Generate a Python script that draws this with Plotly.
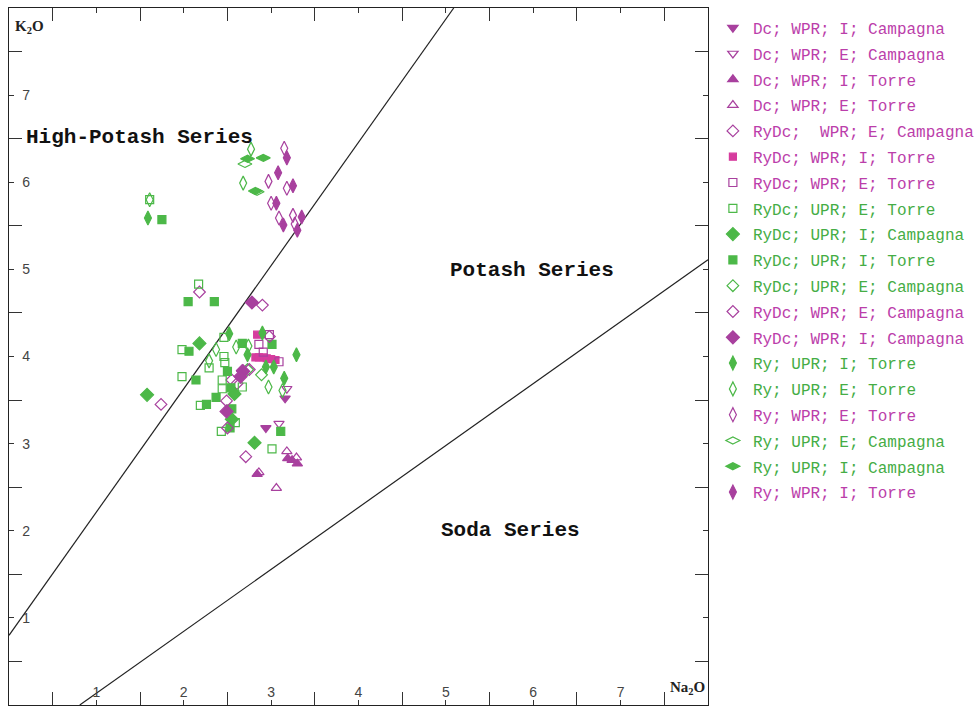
import plotly.graph_objects as go

# ---- boundary lines of the K2O vs Na2O classification ----
high_potash_x = [0.0, 5.09]
high_potash_y = [0.80, 8.00]
soda_x = [0.81, 8.00]
soda_y = [0.00, 5.11]

# ---- samples: (Na2O, K2O) per group ----
dc_wpr_i_campagna_x = [3.16, 2.94]
dc_wpr_i_campagna_y = [3.52, 3.18]
dc_wpr_e_campagna_x = [3.18, 3.09]
dc_wpr_e_campagna_y = [3.63, 3.23]
dc_wpr_i_torre_x = [3.19, 3.24, 3.30, 2.84]
dc_wpr_i_torre_y = [2.83, 2.81, 2.77, 2.65]
dc_wpr_e_torre_x = [3.06, 3.18, 3.29, 2.86]
dc_wpr_e_torre_y = [2.49, 2.91, 2.84, 2.67]
rydc_wpr_e_campagna_a_x = [2.18, 1.74, 2.90, 2.55, 2.61]
rydc_wpr_e_campagna_a_y = [4.74, 3.45, 4.59, 3.73, 3.69]
rydc_wpr_i_torre_x = [2.84, 2.82, 2.86, 2.91, 2.95, 3.00, 3.05]
rydc_wpr_i_torre_y = [4.25, 3.99, 3.99, 3.99, 3.98, 3.97, 3.96]
rydc_wpr_e_torre_x = [2.86, 2.98, 2.91, 3.09]
rydc_wpr_e_torre_y = [4.14, 4.25, 4.05, 3.94]
rydc_upr_e_torre_x = [1.61, 2.17, 1.98, 1.98, 2.46, 2.46, 2.47, 2.29, 2.44, 2.44,
                      2.19, 2.67, 2.59, 2.43, 3.01]
rydc_upr_e_torre_y = [5.80, 4.83, 4.08, 3.77, 4.22, 4.00, 3.93, 3.87, 3.73, 3.63,
                      3.44, 3.65, 3.24, 3.14, 2.94]
rydc_upr_i_campagna_x = [2.18, 1.58, 2.55, 2.81, 2.58]
rydc_upr_i_campagna_y = [4.15, 3.56, 3.28, 3.01, 3.57]
rydc_upr_i_torre_x = [1.75, 2.05, 2.35, 2.06, 2.14, 2.26, 2.37, 2.50, 2.67, 3.01,
                      2.54, 2.55, 2.53, 3.11]
rydc_upr_i_torre_y = [5.57, 4.63, 4.63, 4.06, 3.73, 3.45, 3.53, 3.83, 4.15, 4.14,
                      3.64, 3.40, 3.18, 3.14]
rydc_upr_e_campagna_x = [2.73, 2.89]
rydc_upr_e_campagna_y = [3.85, 3.79]
rydc_wpr_e_campagna_b_x = [2.67, 2.75, 2.49, 2.50, 2.98, 2.71]
rydc_wpr_e_campagna_b_y = [3.84, 3.85, 3.49, 3.18, 4.23, 2.85]
rydc_wpr_i_campagna_x = [2.78, 2.49, 2.68, 2.65]
rydc_wpr_i_campagna_y = [4.62, 3.37, 3.83, 3.77]
ry_upr_i_torre_x = [1.59, 2.52, 2.94, 3.03, 3.29, 3.15, 2.90, 2.73]
ry_upr_i_torre_y = [5.59, 4.26, 3.88, 3.88, 4.02, 3.75, 4.27, 4.02]
ry_upr_e_torre_x = [2.77, 2.68, 1.61, 2.37, 2.29, 2.60, 2.74, 2.97, 3.13]
ry_upr_e_torre_y = [6.38, 5.99, 5.80, 4.08, 3.95, 4.11, 4.12, 3.65, 3.61]
ry_wpr_e_torre_x = [3.15, 2.97, 3.18, 3.00, 3.09, 3.25, 3.27]
ry_wpr_e_torre_y = [6.39, 6.01, 5.93, 5.76, 5.59, 5.62, 5.52]
ry_upr_e_campagna_x = [2.70, 2.84]
ry_upr_e_campagna_y = [6.21, 5.89]
ry_upr_i_campagna_x = [2.73, 2.91, 2.82]
ry_upr_i_campagna_y = [6.27, 6.28, 5.90]
ry_wpr_i_torre_x = [3.18, 3.08, 3.25, 3.06, 3.35, 3.14, 3.30]
ry_wpr_i_torre_y = [6.28, 6.11, 5.96, 5.76, 5.60, 5.51, 5.45]

# ---- axis ticks ----
major_ticks = [1, 2, 3, 4, 5, 6, 7]
minor_ticks = [0.5, 1.5, 2.5, 3.5, 4.5, 5.5, 6.5, 7.5]

MAGENTA = "#a8409e"
MAGENTA_TXT = "#bb3eaa"
GREEN = "#4cb848"
GREEN_TXT = "#45ad45"

NB = "\u00a0"

groups = [
    ("Dc; WPR; I; Campagna", dc_wpr_i_campagna_x, dc_wpr_i_campagna_y, "triangle-down", MAGENTA, MAGENTA_TXT, 9),
    ("Dc; WPR; E; Campagna", dc_wpr_e_campagna_x, dc_wpr_e_campagna_y, "triangle-down-open", MAGENTA, MAGENTA_TXT, 9),
    ("Dc; WPR; I; Torre", dc_wpr_i_torre_x, dc_wpr_i_torre_y, "triangle-up", MAGENTA, MAGENTA_TXT, 9),
    ("Dc; WPR; E; Torre", dc_wpr_e_torre_x, dc_wpr_e_torre_y, "triangle-up-open", MAGENTA, MAGENTA_TXT, 9),
    ("RyDc;" + NB + " WPR; E; Campagna", rydc_wpr_e_campagna_a_x, rydc_wpr_e_campagna_a_y, "diamond-open", MAGENTA, MAGENTA_TXT, 9),
    ("RyDc; WPR; I; Torre", rydc_wpr_i_torre_x, rydc_wpr_i_torre_y, "square", "#d63c9e", MAGENTA_TXT, 7),
    ("RyDc; WPR; E; Torre", rydc_wpr_e_torre_x, rydc_wpr_e_torre_y, "square-open", MAGENTA, MAGENTA_TXT, 8),
    ("RyDc; UPR; E; Torre", rydc_upr_e_torre_x, rydc_upr_e_torre_y, "square-open", GREEN, GREEN_TXT, 8),
    ("RyDc; UPR; I; Campagna", rydc_upr_i_campagna_x, rydc_upr_i_campagna_y, "diamond", GREEN, GREEN_TXT, 10),
    ("RyDc; UPR; I; Torre", rydc_upr_i_torre_x, rydc_upr_i_torre_y, "square", GREEN, GREEN_TXT, 8),
    ("RyDc; UPR; E; Campagna", rydc_upr_e_campagna_x, rydc_upr_e_campagna_y, "diamond-open", GREEN, GREEN_TXT, 9),
    ("RyDc; WPR; E; Campagna", rydc_wpr_e_campagna_b_x, rydc_wpr_e_campagna_b_y, "diamond-open", MAGENTA, MAGENTA_TXT, 9),
    ("RyDc; WPR; I; Campagna", rydc_wpr_i_campagna_x, rydc_wpr_i_campagna_y, "diamond", MAGENTA, MAGENTA_TXT, 10),
    ("Ry; UPR; I; Torre", ry_upr_i_torre_x, ry_upr_i_torre_y, "diamond-tall", GREEN, GREEN_TXT, 10),
    ("Ry; UPR; E; Torre", ry_upr_e_torre_x, ry_upr_e_torre_y, "diamond-tall-open", GREEN, GREEN_TXT, 10),
    ("Ry; WPR; E; Torre", ry_wpr_e_torre_x, ry_wpr_e_torre_y, "diamond-tall-open", MAGENTA, MAGENTA_TXT, 10),
    ("Ry; UPR; E; Campagna", ry_upr_e_campagna_x, ry_upr_e_campagna_y, "diamond-wide-open", GREEN, GREEN_TXT, 10),
    ("Ry; UPR; I; Campagna", ry_upr_i_campagna_x, ry_upr_i_campagna_y, "diamond-wide", GREEN, GREEN_TXT, 10),
    ("Ry; WPR; I; Torre", ry_wpr_i_torre_x, ry_wpr_i_torre_y, "diamond-tall", MAGENTA, MAGENTA_TXT, 10),
]

fig = go.Figure()

for bx, by in ((high_potash_x, high_potash_y), (soda_x, soda_y)):
    fig.add_trace(go.Scatter(x=bx, y=by, mode="lines", showlegend=False,
                             hoverinfo="skip", line=dict(color="#222222", width=1.2)))

for i, (name, gx, gy, symbol, color, txt, size) in enumerate(groups):
    fig.add_trace(go.Scatter(
        x=gx, y=gy, mode="markers",
        name=f'<span style="color:{txt}">{name}</span>',
        legendgroup=f"g{i}",
        marker=dict(symbol=symbol, color=color, size=size,
                    line=dict(color=color, width=1.2)),
    ))

# series field labels
fig.add_annotation(x=1.49, y=6.51, text="<b>High-Potash Series</b>", showarrow=False,
                   font=dict(family="Liberation Mono", size=21, color="#111111"))
fig.add_annotation(x=5.98, y=4.99, text="<b>Potash Series</b>", showarrow=False,
                   font=dict(family="Liberation Mono", size=21, color="#111111"))
fig.add_annotation(x=5.74, y=2.00, text="<b>Soda Series</b>", showarrow=False,
                   font=dict(family="Liberation Mono", size=21, color="#111111"))

# axis names placed inside the frame corners
fig.add_annotation(xref="paper", yref="paper", x=0.006, y=0.973, xanchor="left", yanchor="middle",
                   text="<b>K<sub>2</sub>O</b>", showarrow=False,
                   font=dict(family="Liberation Serif", size=15, color="#222222"))
fig.add_annotation(xref="paper", yref="paper", x=0.9985, y=0.024, xanchor="right", yanchor="middle",
                   text="<b>Na<sub>2</sub>O</b>", showarrow=False,
                   font=dict(family="Liberation Serif", size=15, color="#222222"))

axis_common = dict(
    range=[0, 8], tickvals=major_ticks, ticks="inside", ticklen=5, tickwidth=1,
    tickcolor="#333333", showline=True, linecolor="#222222", linewidth=1,
    mirror="ticks", showgrid=False, zeroline=False, ticklabelposition="inside",
    tickfont=dict(family="Liberation Sans", size=14, color="#444444"),
    minor=dict(tickvals=minor_ticks, ticks="inside", ticklen=13, tickwidth=1,
               tickcolor="#333333", showgrid=False),
)

fig.update_layout(
    width=980, height=706,
    margin=dict(l=9, r=272, t=8, b=1, autoexpand=False),
    paper_bgcolor="white", plot_bgcolor="white",
    xaxis=axis_common,
    yaxis=dict(axis_common, ticklabelstandoff=8),
    legend=dict(x=1.007, y=0.996, xanchor="left", yanchor="top",
                font=dict(family="Liberation Mono", size=16),
                bgcolor="rgba(0,0,0,0)", itemwidth=30, tracegroupgap=2),
    showlegend=True,
)

fig.write_html("out.html")
